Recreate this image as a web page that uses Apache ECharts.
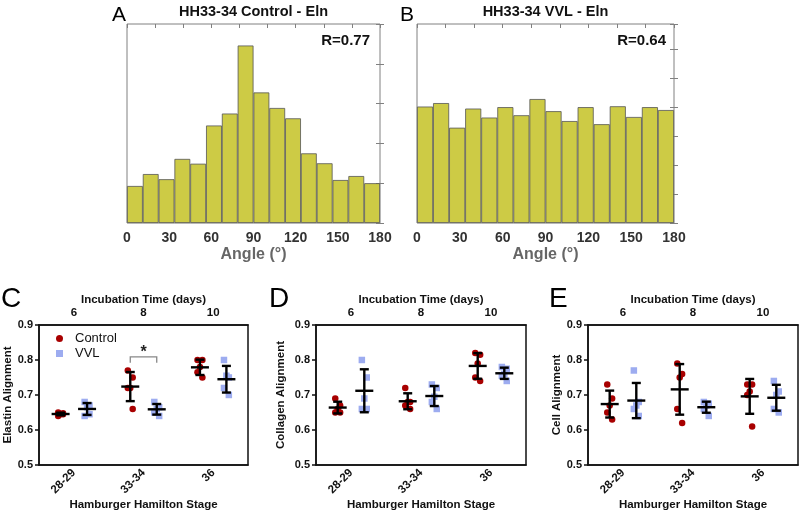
<!DOCTYPE html>
<html>
<head>
<meta charset="utf-8">
<script src="https://cdn.jsdelivr.net/npm/echarts@6/dist/echarts.min.js"></script>
<style>html,body{margin:0;padding:0;background:#fff}#chart{width:800px;height:512px}</style>
</head>
<body>
<div id="chart"></div>
<script>
// ---------- DATA ----------
const angleBins = ['0','11.25','22.5','33.75','45','56.25','67.5','78.75','90','101.25','112.5','123.75','135','146.25','157.5','168.75'];
const histControl = [0.93,1.23,1.10,1.61,1.49,2.45,2.75,4.46,3.28,2.89,2.63,1.75,1.50,1.08,1.18,1.00];
const histVVL = [4.02,4.14,3.29,3.95,3.64,4.00,3.72,4.28,3.86,3.52,4.00,3.41,4.03,3.66,4.00,3.90];
const titleA = 'HH33-34 Control - Eln';
const titleB = 'HH33-34 VVL - Eln';
const rA = 'R=0.77';
const rB = 'R=0.64';

const stages = ['28-29','33-34','36'];
const days = ['6','8','10'];

const elastinControl = [[0.64,0.645,0.645,0.65,0.648],[0.77,0.75,0.72,0.72,0.66],[0.80,0.80,0.78,0.765,0.75]];
const elastinVVL     = [[0.68,0.67,0.665,0.64,0.645],[0.68,0.665,0.66,0.65,0.64],[0.80,0.75,0.755,0.72,0.70]];
const collagenControl = [[0.69,0.67,0.66,0.65,0.65],[0.72,0.68,0.68,0.67,0.66],[0.82,0.815,0.79,0.75,0.74]];
const collagenVVL     = [[0.80,0.75,0.69,0.66,0.66],[0.73,0.72,0.695,0.68,0.66],[0.78,0.775,0.76,0.755,0.74]];
const cellControl = [[0.73,0.69,0.67,0.65,0.63],[0.79,0.76,0.75,0.66,0.62],[0.73,0.73,0.71,0.70,0.61]];
const cellVVL     = [[0.77,0.68,0.67,0.66,0.64],[0.68,0.675,0.67,0.66,0.64],[0.74,0.71,0.70,0.66,0.65]];

// ---------- STYLE ----------
const FONT = 'Liberation Sans, Arial, sans-serif';
const RED = '#A80000';
const BLUE = '#9DACF0';
const YEL = '#CDCB45';
const groupOffset = 0.19;
const jitter = [-0.035, 0.035, 0, -0.035, 0.035];
const sigY = 0.809, sigDrop = 0.017;

const chart = echarts.init(document.getElementById('chart'), null, {renderer: 'canvas'});

function mean(a){return a.reduce((s,v)=>s+v,0)/a.length;}
function sd(a){const m=mean(a);return Math.sqrt(a.reduce((s,v)=>s+(v-m)*(v-m),0)/(a.length-1));}

const grids = [
  {left:127, top:24, width:253, height:199, show:true, borderColor:'#808080', borderWidth:1},
  {left:417, top:24, width:257, height:199, show:true, borderColor:'#808080', borderWidth:1},
  {left:39, top:325, width:209, height:140, show:true, borderColor:'#111', borderWidth:1.5},
  {left:316, top:325, width:210, height:140, show:true, borderColor:'#111', borderWidth:1.5},
  {left:588, top:325, width:210, height:140, show:true, borderColor:'#111', borderWidth:1.5}
];

const xAxes = [], yAxes = [], series = [];
const grayTick = {show:true, length:4, lineStyle:{color:'#808080'}};

function histPanel(g, data, ymax){
  const W = grids[g].width, H = grids[g].height;
  const xi = xAxes.length;
  xAxes.push({type:'category', gridIndex:g, data:angleBins, show:false, boundaryGap:true});
  xAxes.push({type:'value', gridIndex:g, min:0, max:180, interval:30, position:'bottom',
    axisLine:{show:false}, axisTick:{show:false}, splitLine:{show:false},
    axisLabel:{fontFamily:FONT, fontWeight:'bold', fontSize:14, color:'#333', margin:8},
    name:'Angle (°)', nameLocation:'middle', nameGap:24,
    nameTextStyle:{fontFamily:FONT, fontWeight:'bold', fontSize:16, color:'#666'}});
  xAxes.push({type:'value', gridIndex:g, min:0, max:180, interval:20, position:'bottom', offset:-H,
    axisLine:{show:false}, axisTick:grayTick, axisLabel:{show:false}, splitLine:{show:false}});
  const yi = yAxes.length;
  yAxes.push({type:'value', gridIndex:g, min:0, max:ymax, interval:1, position:'right', offset:-W,
    axisLine:{show:false}, axisTick:grayTick, axisLabel:{show:false}, splitLine:{show:false}});
  yAxes.push({type:'value', gridIndex:g, min:0, max:ymax, interval:1, position:'left', offset:-W,
    axisLine:{show:false}, axisTick:grayTick, axisLabel:{show:false}, splitLine:{show:false}});
  series.push({type:'bar', xAxisIndex:xi, yAxisIndex:yi, data:data, barCategoryGap:'0%',
    itemStyle:{color:YEL, borderColor:'#555', borderWidth:0.8}, silent:true, z:2});
}

function dotPanel(g, ctrl, vvl, yname, nameGap, withSig){
  const xi = xAxes.length;
  xAxes.push({type:'category', gridIndex:g, data:stages, position:'bottom', boundaryGap:true,
    axisLine:{lineStyle:{color:'#111', width:1.5}},
    axisTick:{alignWithLabel:true, length:4, lineStyle:{color:'#111', width:1.5}},
    axisLabel:{rotate:45, fontFamily:FONT, fontWeight:'bold', fontSize:11.5, color:'#111', margin:6},
    name:'Hamburger Hamilton Stage', nameLocation:'middle', nameGap:34,
    nameTextStyle:{fontFamily:FONT, fontWeight:'bold', fontSize:11.5, color:'#111'}});
  xAxes.push({type:'category', gridIndex:g, data:days, position:'top', boundaryGap:true,
    axisLine:{lineStyle:{color:'#111', width:1.5}},
    axisTick:{alignWithLabel:true, length:4, lineStyle:{color:'#111', width:1.5}},
    axisLabel:{fontFamily:FONT, fontWeight:'bold', fontSize:11.5, color:'#111', margin:6},
    name:'Incubation Time (days)', nameLocation:'middle', nameGap:15,
    nameTextStyle:{fontFamily:FONT, fontWeight:'bold', fontSize:11.5, color:'#111'}});
  xAxes.push({type:'value', gridIndex:g, min:0, max:3, show:false});
  const yi = yAxes.length;
  yAxes.push({type:'value', gridIndex:g, min:0.5, max:0.9, interval:0.1,
    axisLine:{show:true, lineStyle:{color:'#111', width:1.5}},
    axisTick:{show:true, length:4, lineStyle:{color:'#111', width:1.5}},
    axisLabel:{fontFamily:FONT, fontWeight:'bold', fontSize:11, color:'#111', margin:6,
      formatter:v=>v.toFixed(1)},
    splitLine:{show:false},
    name:yname, nameLocation:'middle', nameGap:nameGap,
    nameTextStyle:{fontFamily:FONT, fontWeight:'bold', fontSize:11.5, color:'#111'}});
  const vx = xi + 2;
  const pts = (groups, side) => {
    const out = [];
    groups.forEach((arr, gi) => arr.forEach((v, k) => out.push([gi + 0.5 + side*groupOffset + jitter[k], v])));
    return out;
  };
  const bars = (groups, side) => groups.map((arr, gi) => [gi + 0.5 + side*groupOffset, mean(arr), sd(arr)]);
  series.push({name:'Control', type:'scatter', xAxisIndex:vx, yAxisIndex:yi, data:pts(ctrl,-1),
    symbol:'circle', symbolSize:6.5, itemStyle:{color:RED, opacity:1}, z:3});
  series.push({name:'VVL', type:'scatter', xAxisIndex:vx, yAxisIndex:yi, data:pts(vvl,1),
    symbol:'rect', symbolSize:6.5, itemStyle:{color:BLUE, opacity:1}, z:3});
  const eb = {type:'custom', xAxisIndex:vx, yAxisIndex:yi, z:5, silent:true,
    renderItem:(params, api) => {
      const x = api.value(0), m = api.value(1), s = api.value(2);
      const c = api.coord([x, m]), t = api.coord([x, m+s]), b = api.coord([x, m-s]);
      const st = {stroke:'#000', lineWidth:2.4};
      return {type:'group', children:[
        {type:'line', shape:{x1:c[0], y1:t[1], x2:c[0], y2:b[1]}, style:st},
        {type:'line', shape:{x1:c[0]-4.5, y1:t[1], x2:c[0]+4.5, y2:t[1]}, style:st},
        {type:'line', shape:{x1:c[0]-4.5, y1:b[1], x2:c[0]+4.5, y2:b[1]}, style:st},
        {type:'line', shape:{x1:c[0]-9, y1:c[1], x2:c[0]+9, y2:c[1]}, style:st}
      ]};
    }};
  series.push(Object.assign({}, eb, {data:bars(ctrl,-1)}));
  series.push(Object.assign({}, eb, {data:bars(vvl,1)}));
  if (withSig) {
    series.push({type:'custom', xAxisIndex:vx, yAxisIndex:yi, z:4, silent:true,
      data:[[1.5 - groupOffset, 1.5 + groupOffset, sigY]],
      renderItem:(params, api) => {
        const a = api.coord([api.value(0), api.value(2)]);
        const b = api.coord([api.value(1), api.value(2)]);
        const d = api.coord([api.value(0), api.value(2) - sigDrop]);
        const st = {stroke:'#888', lineWidth:1.3, fill:null};
        return {type:'group', children:[
          {type:'polyline', shape:{points:[[a[0], d[1]], a, b, [b[0], d[1]]]}, style:st},
          {type:'text', style:{x:(a[0]+b[0])/2, y:a[1]-12, text:'*', textAlign:'center', textVerticalAlign:'top',
            font:'bold 16px ' + FONT, fill:'#222'}}
        ]};
      }});
  }
}

histPanel(0, histControl, 5);
histPanel(1, histVVL, 6.87);
dotPanel(2, elastinControl, elastinVVL, 'Elastin Alignment', 24, true);
dotPanel(3, collagenControl, collagenVVL, 'Collagen Alignment', 29, false);
dotPanel(4, cellControl, cellVVL, 'Cell Alignment', 23, false);

const option = {
  animation:false,
  grid:grids,
  xAxis:xAxes,
  yAxis:yAxes,
  series:series,
  legend:{data:['Control','VVL'], orient:'vertical', left:56, top:332, padding:0, itemWidth:7, itemHeight:7,
    itemGap:2, selectedMode:false,
    textStyle:{fontFamily:FONT, fontSize:13, color:'#111', padding:[0,0,0,7], lineHeight:13}},
  graphic:[
    {type:'text', x:253.5, y:12, style:{text:titleA, font:'bold 14.5px ' + FONT, textAlign:'center', textVerticalAlign:'middle', fill:'#111'}},
    {type:'text', x:545.5, y:12, style:{text:titleB, font:'bold 14.5px ' + FONT, textAlign:'center', textVerticalAlign:'middle', fill:'#111'}},
    {type:'text', x:370, y:41, style:{text:rA, font:'bold 15px ' + FONT, textAlign:'right', textVerticalAlign:'middle', fill:'#111'}},
    {type:'text', x:666, y:41, style:{text:rB, font:'bold 15px ' + FONT, textAlign:'right', textVerticalAlign:'middle', fill:'#111'}},
    {type:'text', x:112, y:15, style:{text:'A', font:'21px ' + FONT, textAlign:'left', textVerticalAlign:'middle', fill:'#000'}},
    {type:'text', x:400, y:15, style:{text:'B', font:'21px ' + FONT, textAlign:'left', textVerticalAlign:'middle', fill:'#000'}},
    {type:'text', x:1, y:299, style:{text:'C', font:'28px ' + FONT, textAlign:'left', textVerticalAlign:'middle', fill:'#000'}},
    {type:'text', x:269, y:299, style:{text:'D', font:'28px ' + FONT, textAlign:'left', textVerticalAlign:'middle', fill:'#000'}},
    {type:'text', x:549, y:299, style:{text:'E', font:'28px ' + FONT, textAlign:'left', textVerticalAlign:'middle', fill:'#000'}}
  ]
};
chart.setOption(option);
</script>
</body>
</html>
